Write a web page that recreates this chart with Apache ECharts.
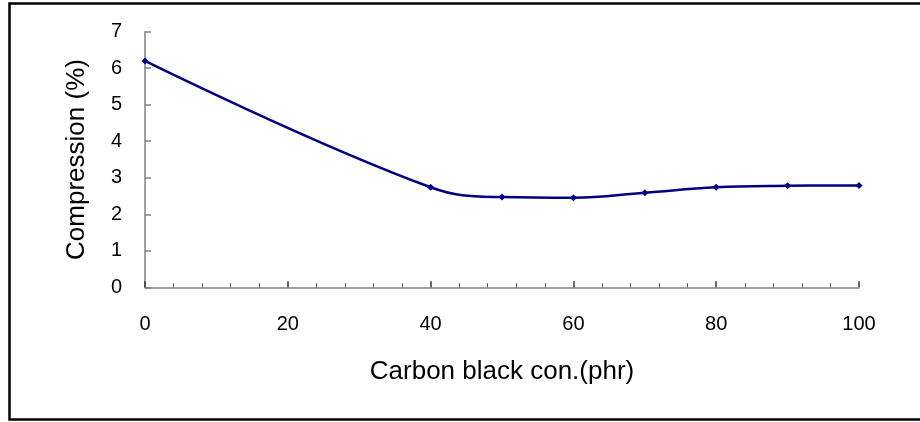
<!DOCTYPE html>
<html>
<head>
<meta charset="utf-8">
<script src="https://cdn.jsdelivr.net/npm/echarts@6/dist/echarts.min.js"></script>
<style>
  html, body { margin: 0; padding: 0; background: #fff; }
</style>
</head>
<body>
<div id="myChart" style="width:920px;height:422px;"></div>
<script>
  // carbon black content (phr) and compression (%)
  var carbonBlack = [0, 40, 50, 60, 70, 80, 90, 100]
  var compression = [6.2, 2.74, 2.47, 2.45, 2.59, 2.74, 2.78, 2.79]

  var seriesData = carbonBlack.map(function (x, i) {
    return [x, compression[i]]
  })

  var myChart = echarts.init(document.getElementById('myChart'))
  var axisColor = '#808080'
  var option = {
    animation: false,
    backgroundColor: '#fff',
    textStyle: { fontFamily: 'Liberation Sans, Arial, sans-serif' },
    graphic: [{
      type: 'rect',
      shape: { x: 9.5, y: 3.5, width: 930, height: 416 },
      style: { fill: 'none', stroke: '#000', lineWidth: 2.5 },
      silent: true
    }],
    grid: { left: 145, right: 61, top: 31.7, bottom: 134.7 },
    xAxis: {
      type: 'value',
      min: 0,
      max: 100,
      interval: 20,
      name: 'Carbon black con.(phr)',
      nameLocation: 'middle',
      nameGap: 72,
      nameTextStyle: { color: '#000', fontSize: 26 },
      axisLine: { lineStyle: { color: axisColor, width: 1.5 } },
      axisTick: { inside: true, length: 6, lineStyle: { color: '#333', width: 1.5 } },
      minorTick: { show: true, splitNumber: 5, length: 4, lineStyle: { color: '#555', width: 1 } },
      axisLabel: { color: '#000', fontSize: 20, margin: 27 },
      splitLine: { show: false }
    },
    yAxis: {
      type: 'value',
      min: 0,
      max: 7,
      interval: 1,
      name: 'Compression (%)',
      nameLocation: 'middle',
      nameGap: 55,
      nameTextStyle: { color: '#000', fontSize: 26 },
      axisLine: { show: true, lineStyle: { color: axisColor, width: 1.5 } },
      axisTick: { show: true, inside: true, length: 6, lineStyle: { color: axisColor, width: 1.5 } },
      axisLabel: { color: '#000', fontSize: 20, margin: 23 },
      splitLine: { show: false }
    },
    series: [{
      name: 'Compression',
      type: 'line',
      data: seriesData,
      smooth: 0.4,
      symbol: 'diamond',
      symbolSize: 7,
      lineStyle: { color: '#000080', width: 2.5 },
      itemStyle: { color: '#000080' }
    }]
  }
  myChart.setOption(option)
</script>
</body>
</html>
